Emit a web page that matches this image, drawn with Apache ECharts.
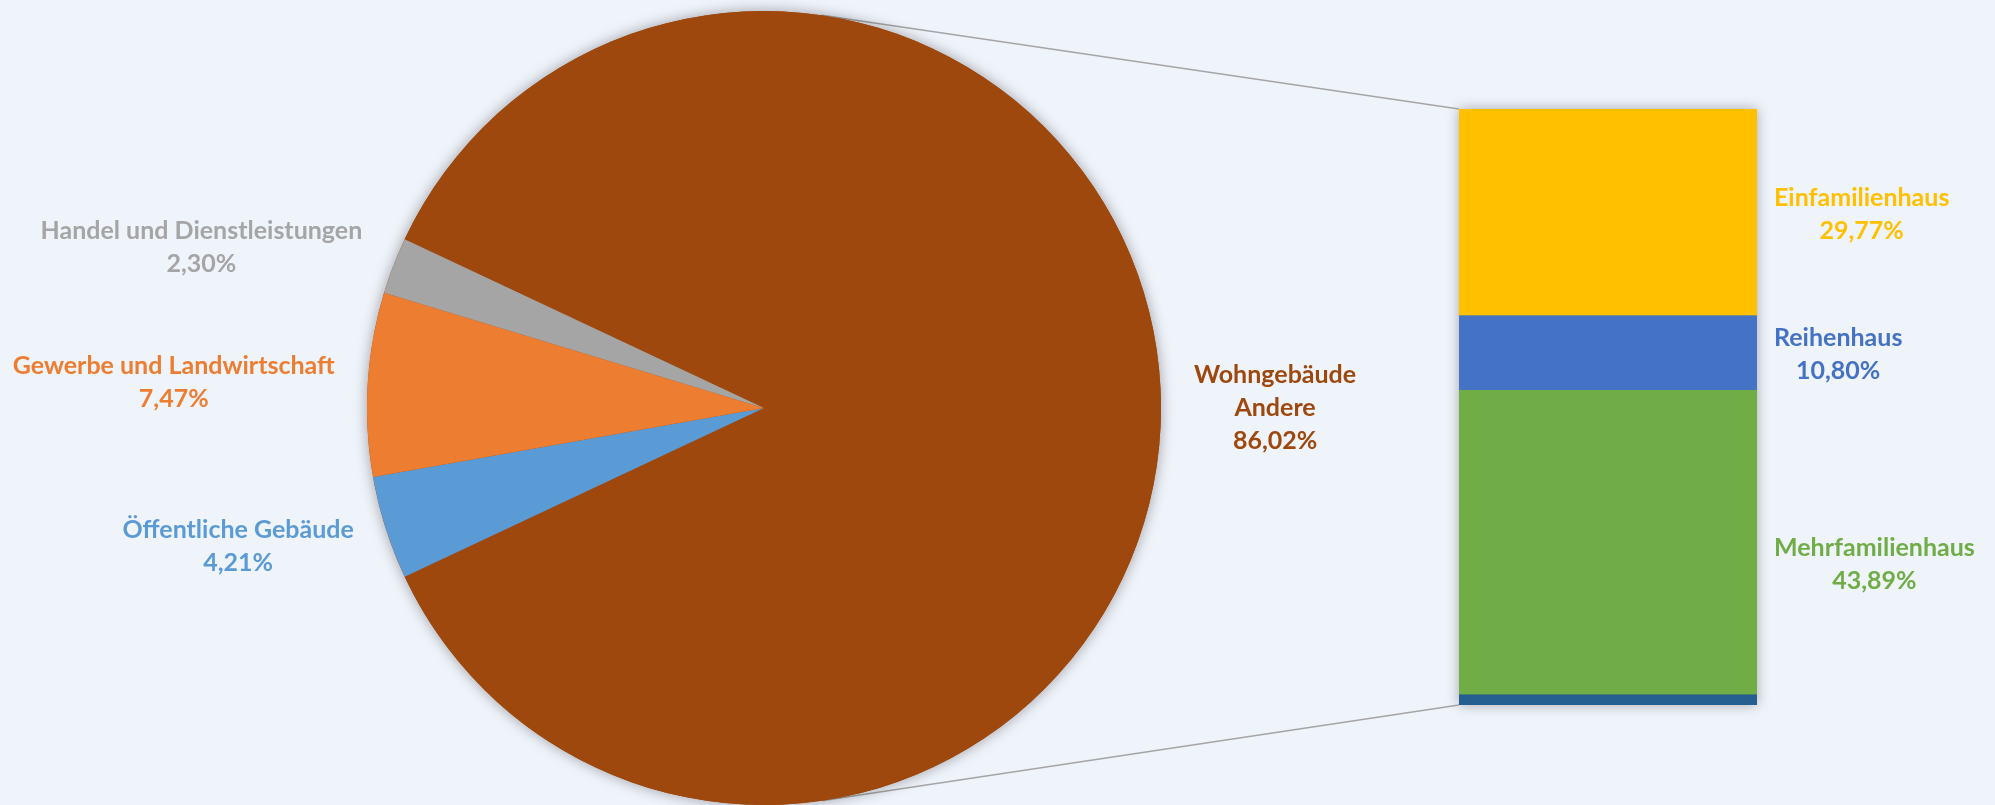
<!DOCTYPE html>
<html>
<head>
  <meta charset="utf-8">
  <title>Wohngebäude</title>
  <script src="https://fastly.jsdelivr.net/npm/echarts@6/dist/echarts.min.js"></script>
</head>
<body style="margin:0;background:#eff3fa;">
<div id="chart-container" style="width:1995px;height:805px;"></div>
<script type="text/javascript">
  // pie: Wohngebäude first, small slices follow clockwise on the left side
  var pieNames = ['Wohngebäude\nAndere', 'Öffentliche Gebäude', 'Gewerbe und Landwirtschaft', 'Handel und Dienstleistungen'];
  var pieValues = [86.02, 4.21, 7.47, 2.30];
  var pieColors = ['#9e480e', '#5b9bd5', '#ed7d31', '#a5a5a5'];

  // bar: split of Wohngebäude, bottom to top
  var barNames = ['Andere', 'Mehrfamilienhaus', 'Reihenhaus', 'Einfamilienhaus'];
  var barValues = [1.56, 43.89, 10.80, 29.77];
  var barColors = ['#255e91', '#70ad47', '#4472c4', '#ffc000'];

  var pieCenter = [764, 408];
  var pieRadius = 397;
  var grid = { left: 1459, top: 109, width: 298, height: 596 };
  var font = 'Lato';
  var fontSize = 25;

  var dom = document.getElementById('chart-container');
  var myChart = echarts.init(dom, null, { renderer: 'canvas' });

  function pct(v) {
    return v.toFixed(2).replace('.', ',') + '%';
  }
  function centered(text) {
    return text.split('\n').map(function (s) { return '{c|' + s + '}'; }).join('\n');
  }
  var rich = {
    c: { align: 'center', lineHeight: 33, fontSize: fontSize, fontWeight: 'bold', fontFamily: font }
  };

  var pieTotal = pieValues.reduce(function (a, b) { return a + b; }, 0);
  var restShare = (pieTotal - pieValues[0]) / pieTotal;
  var startAngle = 180 - restShare * 360 / 2;

  var barTotal = barValues.reduce(function (a, b) { return a + b; }, 0);

  // small nudges so the left labels sit where Excel put them
  var pieLabelOffset = [[0, 0], [0, 10], [0, 0], [0, -8]];

  var series = [
    {
      type: 'pie',
      silent: true,
      z: 1,
      center: pieCenter,
      radius: pieRadius,
      label: { show: false },
      labelLine: { show: false },
      itemStyle: { color: pieColors[0], borderWidth: 0, shadowBlur: 14, shadowColor: 'rgba(0,0,0,0.35)' },
      data: [{ value: 1, name: '' }]
    },
    {
      type: 'pie',
      silent: true,
      z: 2,
      center: pieCenter,
      radius: pieRadius,
      startAngle: startAngle,
      clockwise: true,
      avoidLabelOverlap: false,
      label: {
        show: true,
        position: 'outside',
        distanceToLabelLine: 5,
        formatter: function (p) { return centered(p.name + '\n' + pct(p.value)); },
        rich: rich
      },
      labelLine: { show: false, length: 28, length2: 0 },
      itemStyle: { borderWidth: 0 },
      data: pieValues.map(function (v, i) {
        return {
          value: v,
          name: pieNames[i],
          itemStyle: { color: pieColors[i] },
          label: { color: pieColors[i], offset: pieLabelOffset[i] }
        };
      })
    }
  ];

  barValues.forEach(function (v, i) {
    series.push({
      type: 'bar',
      name: barNames[i],
      stack: 'wohn',
      barWidth: '100%',
      silent: true,
      itemStyle: { color: barColors[i], borderWidth: 0 },
      label: {
        show: i > 0,
        position: 'right',
        distance: 17,
        offset: barNames[i] === 'Mehrfamilienhaus' ? [0, 22] : [0, 2],
        color: barColors[i],
        formatter: function (p) { return centered(p.seriesName + '\n' + pct(p.value)); },
        rich: rich
      },
      data: [v]
    });
  });

  myChart.setOption({
    backgroundColor: '#eff3fa',
    animation: false,
    grid: {
      left: grid.left, top: grid.top, width: grid.width, height: grid.height,
      show: true, borderWidth: 0, backgroundColor: barColors[1],
      shadowBlur: 12, shadowColor: 'rgba(0,0,0,0.3)'
    },
    xAxis: { type: 'category', data: ['Wohngebäude'], show: false },
    yAxis: { type: 'value', min: 0, max: barTotal, show: false },
    series: series
  });

  // connector lines: tangent from the pie to the bar corners
  function tangentPoint(px, py, upper) {
    var dx = px - pieCenter[0], dy = py - pieCenter[1];
    var d = Math.sqrt(dx * dx + dy * dy);
    var phi = Math.atan2(dy, dx);
    var a = Math.acos(pieRadius / d);
    var t = upper ? phi - a : phi + a;
    return [pieCenter[0] + pieRadius * Math.cos(t), pieCenter[1] + pieRadius * Math.sin(t)];
  }
  var yTop = myChart.convertToPixel({ yAxisIndex: 0 }, barTotal);
  var yBottom = myChart.convertToPixel({ yAxisIndex: 0 }, 0);
  var t1 = tangentPoint(grid.left, yTop, true);
  var t2 = tangentPoint(grid.left, yBottom, false);
  var lineStyle = { stroke: '#a5a5a5', lineWidth: 1.5 };
  myChart.setOption({
    graphic: [
      { type: 'line', z: 0, silent: true, shape: { x1: t1[0], y1: t1[1], x2: grid.left, y2: yTop }, style: lineStyle },
      { type: 'line', z: 0, silent: true, shape: { x1: t2[0], y1: t2[1], x2: grid.left, y2: yBottom }, style: lineStyle }
    ]
  });

  window.addEventListener('resize', myChart.resize);
</script>
</body>
</html>
